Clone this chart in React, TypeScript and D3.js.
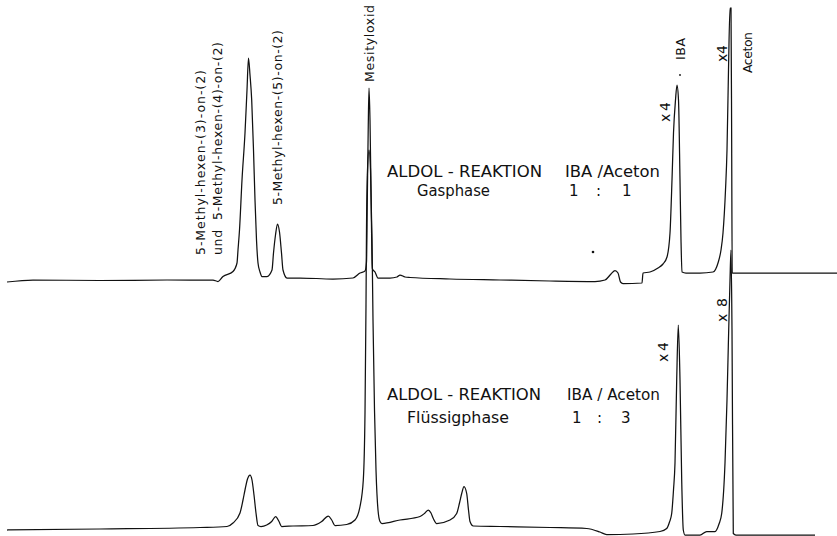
import React from "react";
import * as d3 from "d3";

// Chromatogram traces: [retention time (arb. units), detector signal (arb. units)]
const gasphaseTrace: [number, number][] = [
  [0, -0.2], [2.6, 0.2], [9.3, 0.1], [16, 0.2], [20.6, 0.2], [21.1, -0.1], [21.6, 0.9],
  [22.6, 1.9], [23.0, 3.6], [23.1, 6.2], [23.25, 10.2], [23.5, 20.2], [23.8, 29.6],
  [24.0, 38.2], [24.15, 44.6], [24.3, 41.2], [24.47, 36.2], [24.65, 26.2], [24.8, 16.2],
  [24.95, 8.2], [25.1, 3.6], [25.3, 1.8], [25.5, 0.9], [26.0, 0.9], [26.5, 2.2],
  [26.65, 5.6], [26.85, 9.2], [27.05, 11.4], [27.25, 9.8], [27.45, 5.6], [27.6, 2.2],
  [28.0, 0.6], [29.3, 0.6], [32.6, 0.4], [34.6, 0.6], [35.3, 1.6], [35.8, 2.0],
  [35.95, 3.8], [36.03, 16.2], [36.12, 30.2], [36.2, 38.6], [36.3, 32.2], [36.4, 18.2],
  [36.5, 4.2], [36.55, 2.4], [36.8, 1.8], [37.1, 0.6], [38.3, 0.6], [39.0, 0.8],
  [39.3, 1.2], [39.8, 0.8], [40.3, 0.7], [44.3, 0.4], [49.3, 0.2], [54.3, 0],
  [58.8, -0.1], [59.8, 0.2], [60.4, 1.4], [60.8, 2.1], [61.1, 1.6], [61.35, -0.2],
  [61.6, -0.5], [63.5, -0.4], [63.6, 1.6], [64.3, 1.8], [65.1, 2.6], [65.6, 3.4],
  [66.0, 4.8], [66.3, 9.6], [66.5, 20.2], [66.65, 29.6], [66.85, 36.2], [67.0, 39.2],
  [67.15, 36.2], [67.3, 20.2], [67.4, 8.2], [67.5, 1.8], [67.9, 1.6], [69.3, 1.6],
  [70.6, 1.8], [71.1, 3.6], [71.4, 6.2], [71.6, 9.6], [71.85, 18.2], [72.0, 26.2],
  [72.15, 42.2], [72.3, 54.6], [72.4, 54.6], [72.47, 26.2], [72.52, 1.6], [73.3, 1.6],
  [83, 1.6],
];

const fluessigTrace: [number, number][] = [
  [0, 0], [9.3, 0.2], [19.3, 0.5], [22.0, 0.7], [22.6, 1.4], [23.3, 3.4], [23.6, 6],
  [23.8, 8], [24.05, 10.2], [24.3, 11], [24.5, 10], [24.7, 7], [24.9, 3.4], [25.1, 0.9],
  [25.4, 0.7], [25.97, 1.0], [26.47, 1.7], [26.87, 2.7], [27.2, 1.7], [27.47, 0.7],
  [28.6, 0.8], [30.6, 0.9], [31.47, 1.7], [32.13, 2.8], [32.47, 2.0], [32.8, 0.9],
  [33.97, 1.1], [34.8, 2], [35.3, 4.7], [35.63, 10], [35.8, 23.4], [35.9, 45],
  [35.95, 60], [36.05, 72], [36.2, 76], [36.35, 72], [36.5, 58], [36.6, 42], [36.75, 24],
  [36.9, 12], [37.1, 4], [37.3, 1.7], [37.5, 1.3], [39.3, 2.0], [41.3, 2.7], [41.8, 3.4],
  [42.13, 4.0], [42.4, 3.4], [42.63, 2.3], [42.97, 1.3], [44.3, 2.0], [44.97, 3.3],
  [45.25, 5.4], [45.47, 7.3], [45.7, 8.7], [45.97, 7.3], [46.15, 4], [46.3, 1.7],
  [46.63, 0.8], [49.3, 0.7], [54.3, 0.5], [57.97, 0.3], [59.3, -0.4], [59.97, -0.9],
  [62.6, -0.8], [65.3, -0.3], [65.97, 0.3], [66.25, 1.6], [66.47, 3.3], [66.65, 8],
  [66.8, 13.4], [66.97, 30], [67.13, 41], [67.3, 30], [67.47, 10], [67.63, 0],
  [67.8, -1], [69.3, -1], [69.97, -0.3], [70.8, -0.3], [71.2, 1.2], [71.47, 3.3],
  [71.8, 13.4], [72.0, 26], [72.13, 36.7], [72.3, 50], [72.4, 56], [72.5, 40],
  [72.63, -0.7], [72.9, -1], [80.8, -1],
];

const peakLabels = [
  "5-Methyl-hexen-(3)-on-(2)",
  "und  5-Methyl-hexen-(4)-on-(2)",
  "5-Methyl-hexen-(5)-on-(2)",
  "Mesityloxid",
  "IBA",
  "Aceton",
];
const attenuationLabels = ["x4", "x4", "x8", "x4"];
const titleTop = ["ALDOL - REAKTION", "Gasphase", "IBA /Aceton"];
const ratioTop = ["1", ":", "1"];
const titleBottom = ["ALDOL - REAKTION", "Flüssigphase", "IBA / Aceton"];
const ratioBottom = ["1", ":", "3"];

const W = 837;
const H = 536;

export default function App() {
  const x = d3.scaleLinear().domain([0, 83]).range([7, 837]);
  const yTop = d3.scaleLinear().domain([0, 55]).range([281, 6]);
  const yBot = d3.scaleLinear().domain([0, 55]).range([530, 255]);

  const lineTop = d3
    .line<[number, number]>()
    .x((d) => x(d[0]))
    .y((d) => yTop(d[1]))
    .curve(d3.curveMonotoneX);
  const lineBot = d3
    .line<[number, number]>()
    .x((d) => x(d[0]))
    .y((d) => yBot(d[1]))
    .curve(d3.curveMonotoneX);

  const font = "'DejaVu Sans', 'Liberation Sans', sans-serif";
  const ink = "#111";

  const rot = (
    text: string,
    bx: number,
    by: number,
    len: number,
    size: number,
    key: string
  ) => (
    <text
      key={key}
      transform={`translate(${bx},${by}) rotate(-90)`}
      fontSize={size}
      fontFamily={font}
      fill={ink}
      textLength={len}
      lengthAdjust="spacing"
      style={{ whiteSpace: "pre" }}
    >
      {text}
    </text>
  );

  const hz = (
    text: string,
    px: number,
    py: number,
    len: number | null,
    key: string
  ) => (
    <text
      key={key}
      x={px}
      y={py}
      fontSize={15}
      fontFamily={font}
      fill={ink}
      textLength={len ?? undefined}
      lengthAdjust="spacingAndGlyphs"
      style={{ whiteSpace: "pre" }}
    >
      {text}
    </text>
  );

  return (
    <svg
      width={W}
      height={H}
      style={{ position: "absolute", left: 0, top: 0, background: "#fff" }}
    >
      <rect x={0} y={0} width={W} height={H} fill="#fff" />
      <path d={lineBot(fluessigTrace) || ""} fill="none" stroke={ink} strokeWidth={1.25} />
      <path d={lineTop(gasphaseTrace) || ""} fill="none" stroke={ink} strokeWidth={1.25} />

      {rot(peakLabels[0], 205, 255, 185, 12.5, "l0")}
      {rot(peakLabels[1], 222, 255, 213, 12.5, "l1")}
      {rot(peakLabels[2], 282, 205, 175, 12.5, "l2")}
      {rot(peakLabels[3], 374, 82, 77, 12.5, "l3")}
      {rot(peakLabels[4], 685, 60, 22, 12.5, "l4")}
      {rot(peakLabels[5], 752, 73, 41, 12.5, "l5")}

      {rot(attenuationLabels[0], 670, 122, 20, 14, "a0")}
      {rot(attenuationLabels[1], 727, 62, 17, 14, "a1")}
      {rot(attenuationLabels[2], 727, 322, 24, 14, "a2")}
      {rot(attenuationLabels[3], 668, 362, 20, 14, "a3")}

      {hz(titleTop[0], 387, 177, 155, "t0")}
      {hz(titleTop[1], 417, 196, 73, "t1")}
      {hz(titleTop[2], 565, 177, 95, "t2")}
      {hz(ratioTop[0], 569, 196, null, "r0")}
      {hz(ratioTop[1], 596, 196, null, "r1")}
      {hz(ratioTop[2], 622, 196, null, "r2")}
      {hz(titleBottom[0], 387, 400, 154, "b0")}
      {hz(titleBottom[1], 407, 423, 102, "b1")}
      {hz(titleBottom[2], 567, 400, 93, "b2")}
      {hz(ratioBottom[0], 572, 423, null, "s0")}
      {hz(ratioBottom[1], 597, 423, null, "s1")}
      {hz(ratioBottom[2], 621, 423, null, "s2")}

      <circle cx={x(58.6)} cy={yTop(5.8)} r={1.3} fill={ink} />
      <circle cx={x(67.3)} cy={yTop(41.2)} r={0.9} fill={ink} />
    </svg>
  );
}
